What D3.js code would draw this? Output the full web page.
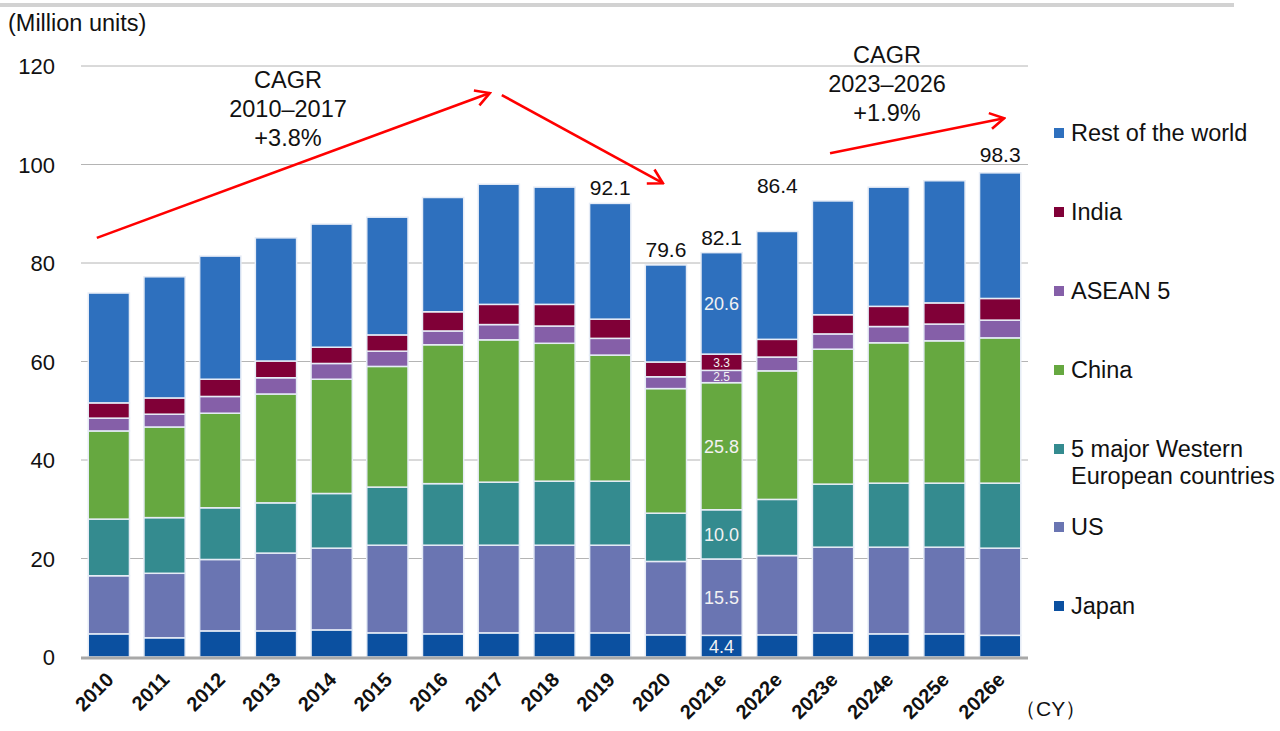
<!DOCTYPE html>
<html>
<head>
<meta charset="utf-8">
<script src="https://cdn.jsdelivr.net/npm/d3@7"></script>
<style>
  body { margin: 0; background: #fff; }
  text { font-family: "Liberation Sans", Arial, sans-serif; fill: #111; }
</style>
</head>
<body>
<div class="chart"></div>
<script>
// Data
var years = ["2010", "2011", "2012", "2013", "2014", "2015", "2016", "2017", "2018",
  "2019", "2020", "2021e", "2022e", "2023e", "2024e", "2025e", "2026e"];

var seriesNames = ["Japan", "US", "5 major Western European countries", "China", "ASEAN 5", "India", "Rest of the world"];

var japan  = [4.7, 3.9, 5.3, 5.3, 5.5, 4.9, 4.7, 4.9, 4.9, 4.9, 4.5, 4.4, 4.5, 4.9, 4.7, 4.7, 4.4];
var us     = [11.8, 13.1, 14.5, 15.8, 16.6, 17.8, 18.0, 17.8, 17.8, 17.8, 14.9, 15.5, 16.1, 17.4, 17.6, 17.6, 17.7];
var europe = [11.5, 11.3, 10.5, 10.2, 11.1, 11.8, 12.5, 12.8, 13.0, 13.0, 9.8, 10.0, 11.4, 12.8, 13.0, 13.0, 13.2];
var china  = [17.9, 18.4, 19.2, 22.1, 23.2, 24.5, 28.2, 28.9, 28.0, 25.6, 25.3, 25.8, 26.1, 27.4, 28.5, 28.9, 29.5];
var asean  = [2.6, 2.6, 3.4, 3.3, 3.2, 3.1, 2.8, 3.1, 3.5, 3.4, 2.4, 2.5, 2.8, 3.1, 3.3, 3.4, 3.6];
var india  = [3.1, 3.3, 3.5, 3.4, 3.3, 3.3, 3.9, 4.1, 4.4, 3.9, 3.0, 3.3, 3.6, 3.9, 4.1, 4.3, 4.4];
var rest   = [22.3, 24.6, 25.0, 25.0, 25.0, 23.9, 23.2, 24.4, 23.8, 23.5, 19.7, 20.6, 21.9, 23.1, 24.2, 24.8, 25.5];

var yTicks = [0, 20, 40, 60, 80, 100, 120];

// Totals shown above some bars
var totalYears = ["2019", "2020", "2021e", "2022e", "2026e"];
var totalLabels = ["92.1", "79.6", "82.1", "86.4", "98.3"];

// Year whose segments carry value labels
var labelYear = "2021e";

var colors = ["#0b50a0", "#6a75b2", "#348b8f", "#66a840", "#855fa8", "#800037", "#2e70be"];
var legendNames = ["Rest of the world", "India", "ASEAN 5", "China", ["5 major Western", "European countries"], "US", "Japan"];

// Set up chart
var svgWidth = 1280;
var svgHeight = 731;

var svg = d3.select(".chart")
  .append("svg")
  .attr("width", svgWidth)
  .attr("height", svgHeight);

// Top rule
svg.append("rect")
  .attr("x", 0)
  .attr("y", 3)
  .attr("width", 1234)
  .attr("height", 4)
  .attr("fill", "#d2d2d2");

var xScale = d3.scaleBand()
  .domain(years)
  .range([81, 1028])
  .paddingInner(0.26)
  .paddingOuter(0.13);

var yScale = d3.scaleLinear()
  .domain([0, 120])
  .range([657, 66]);

// Build stacked data
var rows = years.map((y, i) => ({
  year: y,
  "Japan": japan[i],
  "US": us[i],
  "5 major Western European countries": europe[i],
  "China": china[i],
  "ASEAN 5": asean[i],
  "India": india[i],
  "Rest of the world": rest[i]
}));

var stack = d3.stack().keys(seriesNames)(rows);

// Gridlines
svg.append("g")
  .selectAll("line")
  .data(yTicks.slice(1))
  .enter()
  .append("line")
  .attr("x1", 81)
  .attr("x2", 1028)
  .attr("y1", d => yScale(d))
  .attr("y2", d => yScale(d))
  .attr("stroke", "#b4b4b4")
  .attr("stroke-width", 1);

// Y axis labels
var leftAxis = d3.axisLeft(yScale).tickValues(yTicks).tickSize(0).tickPadding(0);
var yAxis = svg.append("g")
  .attr("transform", "translate(55, 0)")
  .call(leftAxis);
yAxis.select(".domain").remove();
yAxis.selectAll("text")
  .style("font-size", "22px")
  .style("font-family", "'Liberation Sans', Arial, sans-serif")
  .attr("fill", "#222")
  .attr("dy", "0.36em");

// Bars
var layers = svg.append("g")
  .selectAll("g")
  .data(stack)
  .enter()
  .append("g")
  .attr("fill", (d, i) => colors[i]);

layers.selectAll("rect")
  .data(d => d)
  .enter()
  .append("rect")
  .attr("x", d => xScale(d.data.year))
  .attr("y", d => yScale(d[1]))
  .attr("width", xScale.bandwidth())
  .attr("height", d => yScale(d[0]) - yScale(d[1]))
  .attr("stroke", "#e6ecf6")
  .attr("stroke-width", 1.5);

// Baseline
svg.append("line")
  .attr("x1", 81)
  .attr("x2", 1028)
  .attr("y1", yScale(0) + 1)
  .attr("y2", yScale(0) + 1)
  .attr("stroke", "#a8a8a8")
  .attr("stroke-width", 3);

// Segment labels for 2021e (smaller where the segment is thin)
var li = years.indexOf(labelYear);
svg.append("g")
  .selectAll("text")
  .data(stack)
  .enter()
  .append("text")
  .attr("x", xScale(labelYear) + xScale.bandwidth() / 2)
  .attr("y", d => yScale((d[li][0] + d[li][1]) / 2))
  .attr("dy", "0.36em")
  .attr("text-anchor", "middle")
  .style("font-size", d => (d[li][1] - d[li][0]) < 4 ? "12px" : "18px")
  .style("fill", "#f2f2f2")
  .text(d => d[li].data[d.key].toFixed(1));

// Totals above bars
var totalOffset = { "2022e": 38, "2026e": 11 };
svg.append("g")
  .selectAll("text")
  .data(totalYears)
  .enter()
  .append("text")
  .attr("x", d => xScale(d) + xScale.bandwidth() / 2)
  .attr("y", (d, i) => yScale(+totalLabels[i]) - (totalOffset[d] || 8))
  .attr("text-anchor", "middle")
  .style("font-size", "21px")
  .text((d, i) => totalLabels[i]);

// X axis labels
svg.append("g")
  .selectAll("text")
  .data(years)
  .enter()
  .append("text")
  .attr("transform", d => `translate(${xScale(d) + xScale.bandwidth() / 2 + 6}, 681) rotate(-45)`)
  .attr("text-anchor", "end")
  .style("font-size", "20px")
  .style("font-weight", "bold")
  .text(d => d);

svg.append("text")
  .attr("x", 1015)
  .attr("y", 716)
  .style("font-size", "21px")
  .text("（CY）");

svg.append("text")
  .attr("x", 8)
  .attr("y", 31)
  .style("font-size", "23.5px")
  .text("(Million units)");

// CAGR arrows
var arrows = [
  { x1: xScale("2010") - 12 + xScale.bandwidth() / 2, y1: yScale(85.1), x2: xScale("2017") - 9 + xScale.bandwidth() / 2, y2: yScale(114.5) },
  { x1: xScale("2017") + 3 + xScale.bandwidth() / 2, y1: yScale(114.1), x2: xScale("2020") - 3 + xScale.bandwidth() / 2, y2: yScale(96.2) },
  { x1: xScale("2023e") - 3 + xScale.bandwidth() / 2, y1: yScale(102.3), x2: xScale("2026e") + 4 + xScale.bandwidth() / 2, y2: yScale(109.4) }
];

svg.append("defs")
  .append("marker")
  .attr("id", "head")
  .attr("viewBox", "0 0 20 20")
  .attr("refX", 18)
  .attr("refY", 10)
  .attr("markerWidth", 20)
  .attr("markerHeight", 20)
  .attr("markerUnits", "userSpaceOnUse")
  .attr("orient", "auto")
  .append("path")
  .attr("d", "M4,2 L18,10 L4,18")
  .attr("fill", "none")
  .attr("stroke", "#ff0000")
  .attr("stroke-width", 2.6);

svg.append("g")
  .selectAll("line")
  .data(arrows)
  .enter()
  .append("line")
  .attr("x1", d => d.x1)
  .attr("y1", d => d.y1)
  .attr("x2", d => d.x2)
  .attr("y2", d => d.y2)
  .attr("stroke", "#ff0000")
  .attr("stroke-width", 2.6)
  .attr("marker-end", "url(#head)");

// CAGR texts
var cagrText = [
  { x: 288, y: 88, lines: ["CAGR", "2010\u20132017", "+3.8%"] },
  { x: 887, y: 63, lines: ["CAGR", "2023\u20132026", "+1.9%"] }
];
cagrText.forEach(c => {
  c.lines.forEach((t, i) => {
    svg.append("text")
      .attr("x", c.x)
      .attr("y", c.y + i * 29)
      .attr("text-anchor", "middle")
      .style("font-size", "23.5px")
      .text(t);
  });
});

// Legend
var legendY = [133, 212, 291, 370, 449, 527, 606];
var legend = svg.append("g");
legendNames.forEach((name, i) => {
  var color = colors[colors.length - 1 - i];
  legend.append("rect")
    .attr("x", 1054)
    .attr("y", legendY[i] - 5)
    .attr("width", 10)
    .attr("height", 10)
    .attr("fill", color);
  var lines = Array.isArray(name) ? name : [name];
  lines.forEach((t, j) => {
    legend.append("text")
      .attr("x", 1071)
      .attr("y", legendY[i] + j * 27)
      .attr("dy", "0.36em")
      .style("font-size", "23.5px")
      .text(t);
  });
});
</script>
</body>
</html>
